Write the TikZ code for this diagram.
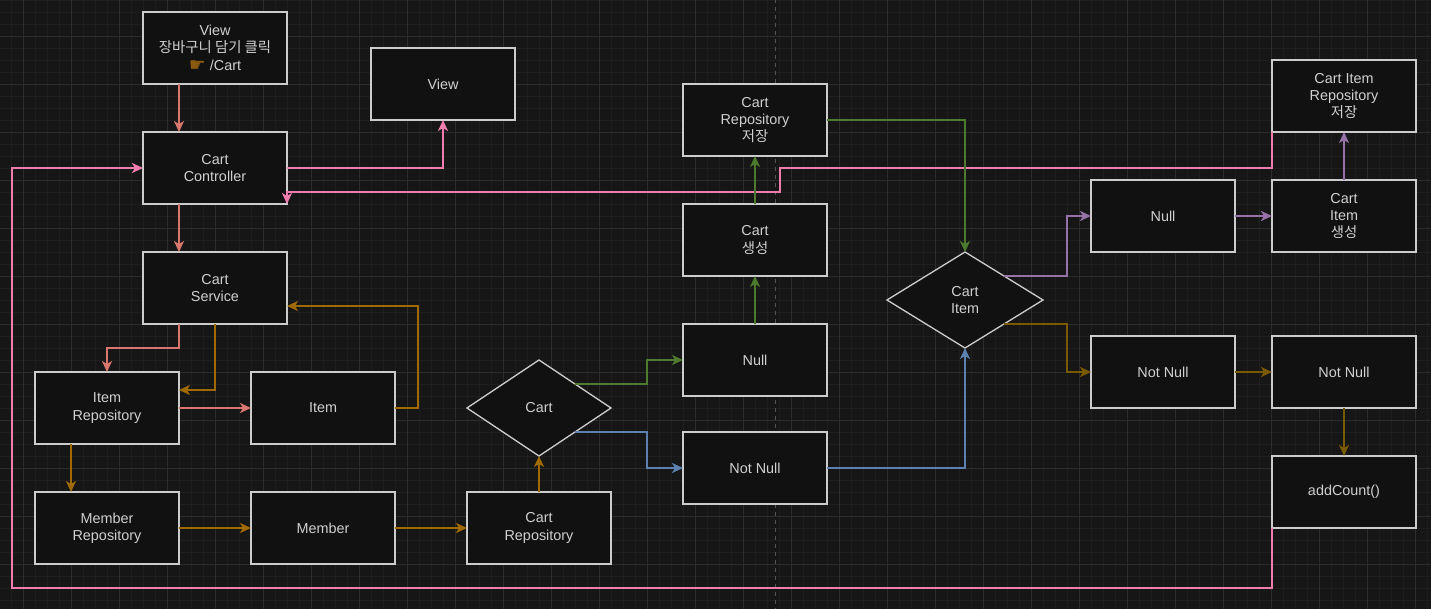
\documentclass[tikz,border=0pt]{standalone}
\usepackage{fontspec}
\setmainfont{Liberation Sans}
\newfontfamily\kr{Noto Sans CJK KR}
\newfontfamily\dejavu{DejaVu Sans}
\usetikzlibrary{shapes.geometric,arrows.meta,calc}
\definecolor{bg}{HTML}{161616}
\definecolor{gridminor}{HTML}{1E1E1E}
\definecolor{gridmajor}{HTML}{2C2C2C}
\definecolor{pagebrk}{HTML}{555555}
\definecolor{boxline}{HTML}{CCCCCC}
\definecolor{boxfill}{HTML}{111111}
\definecolor{txt}{HTML}{D0D0D0}
\definecolor{salmon}{HTML}{DA7670}
\definecolor{pinkc}{HTML}{F07DAE}
\definecolor{orangec}{HTML}{A06A00}
\definecolor{orangedk}{HTML}{7A5A00}
\definecolor{greenc}{HTML}{4E7A2E}
\definecolor{bluec}{HTML}{5C80B0}
\definecolor{purplec}{HTML}{9572A8}
\definecolor{hand}{HTML}{8A5A10}
\tikzset{
  box/.style={draw=boxline, fill=boxfill, line width=1.6pt, minimum width=144pt, minimum height=72pt,
    inner sep=0pt, outer sep=0pt, align=center, text=txt, font=\fontsize{14.4}{17.3}\selectfont},
  dia/.style={diamond, draw=boxline, fill=boxfill, line width=1.3pt, minimum width=144pt, minimum height=96pt,
    inner sep=0pt, outer sep=0pt, align=center, text=txt, font=\fontsize{14.4}{17.3}\selectfont},
  conn/.style={line width=2pt, -{Stealth[length=11pt,width=10pt,inset=3pt]}},
  cSalmon/.style={conn, draw=salmon},
  cPink/.style={conn, draw=pinkc},
  cOrange/.style={conn, draw=orangec},
  cOrangeDk/.style={conn, draw=orangedk},
  cGreen/.style={conn, draw=greenc},
  cBlue/.style={conn, draw=bluec},
  cPurple/.style={conn, draw=purplec},
}
\begin{document}
\begin{tikzpicture}[x=1pt,y=-1pt]
\useasboundingbox (0,0) rectangle (1431,609);
\fill[bg] (0,0) rectangle (1431,609);
\begin{scope}[shift={(0.5,0.5)}]
% grid
\foreach \gx in {11,23,...,1431} \draw[gridminor, line width=1pt] (\gx,-1) -- (\gx,610);
\foreach \gy in {0,12,...,609} \draw[gridminor, line width=1pt] (-1,\gy) -- (1432,\gy);
\foreach \gx in {23,71,...,1431} \draw[gridmajor, line width=1pt] (\gx,-1) -- (\gx,610);
\foreach \gy in {36,84,...,609} \draw[gridmajor, line width=1pt] (-1,\gy) -- (1432,\gy);
% page break
\draw[pagebrk, line width=1pt, dash pattern=on 4pt off 4pt] (775,-1) -- (775,610);
\end{scope}

% nodes
\node[box] (viewA) at (215,48) {View\\{\kr 장바구니 담기 클릭}\\\raisebox{-1pt}{\dejavu\fontsize{19}{17.3}\selectfont\color{hand}☛} /Cart};
\node[box] (ctrl) at (215,168) {Cart\\Controller};
\node[box] (view2) at (443,84) {View};
\node[box] (svc) at (215,288) {Cart\\Service};
\node[box] (itemrepo) at (107,408) {Item\\Repository};
\node[box] (item) at (323,408) {Item};
\node[box] (memrepo) at (107,528) {Member\\Repository};
\node[box] (member) at (323,528) {Member};
\node[box] (cartrepo) at (539,528) {Cart\\Repository};
\node[dia] (cartd) at (539,408) {Cart};
\node[box] (null1) at (755,360) {Null};
\node[box] (notnull1) at (755,468) {Not Null};
\node[box] (cartgen) at (755,240) {Cart\\{\kr 생성}};
\node[box] (cartsave) at (755,120) {Cart\\Repository\\{\kr 저장}};
\node[dia, minimum width=156pt] (cid) at (965,300) {Cart\\Item};
\node[box] (null2) at (1163,216) {Null};
\node[box] (cigen) at (1344,216) {Cart\\Item\\{\kr 생성}};
\node[box] (cisave) at (1344,96) {Cart Item\\Repository\\{\kr 저장}};
\node[box] (notnull2) at (1163,372) {Not Null};
\node[box] (notnull3) at (1344,372) {Not Null};
\node[box] (addc) at (1344,492) {addCount()};

\coordinate (pinkjog) at (780,192);
\coordinate (pinkbl) at (12,588);

% connectors
\draw[cSalmon] ($(viewA.south)+(-36,0)$) -- ($(ctrl.north)+(-36,0)$);
\draw[cPink] (ctrl.east) -| (view2.south);
\draw[cPink] (cisave.south west) -- ++(0,36) -| (pinkjog) -| (ctrl.south east);
\draw[cPink] (addc.south west) |- (pinkbl) |- (ctrl.west);
\draw[cSalmon] ($(ctrl.south)+(-36,0)$) -- ($(svc.north)+(-36,0)$);
\draw[cSalmon] ($(svc.south)+(-36,0)$) -- ++(0,24) -| (itemrepo.north);
\draw[cOrange] (svc.south) |- ($(itemrepo.east)+(0,-18)$);
\draw[cSalmon] (itemrepo.east) -- (item.west);
\draw[cOrange] (item.east) -- ++(23,0) |- ($(svc.east)+(0,18)$);
\draw[cOrange] ($(itemrepo.south)+(-36,0)$) -- ($(memrepo.north)+(-36,0)$);
\draw[cOrange] (memrepo.east) -- (member.west);
\draw[cOrange] (member.east) -- (cartrepo.west);
\draw[cOrange] (cartrepo.north) -- (cartd.south);
\draw[cGreen] (cartd.north east) -| ($(null1.west)+(-36,0)$) -- (null1.west);
\draw[cBlue] (cartd.south east) -| ($(notnull1.west)+(-36,0)$) -- (notnull1.west);
\draw[cGreen] (null1.north) -- (cartgen.south);
\draw[cGreen] (cartgen.north) -- (cartsave.south);
\draw[cGreen] (cartsave.east) -| (cid.north);
\draw[cBlue] (notnull1.east) -| (cid.south);
\draw[cPurple] (cid.north east) -| ($(null2.west)+(-24,0)$) -- (null2.west);
\draw[cPurple] (null2.east) -- (cigen.west);
\draw[cPurple] (cigen.north) -- (cisave.south);
\draw[cOrangeDk] (cid.south east) -| ($(notnull2.west)+(-24,0)$) -- (notnull2.west);
\draw[cOrangeDk] (notnull2.east) -- (notnull3.west);
\draw[cOrangeDk] (notnull3.south) -- (addc.north);
\end{tikzpicture}
\end{document}
